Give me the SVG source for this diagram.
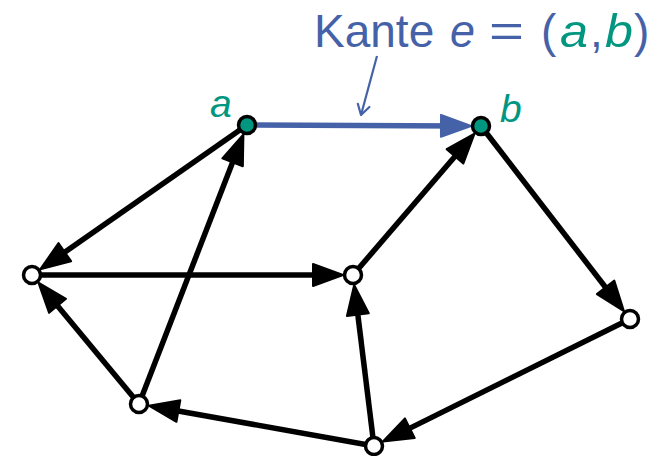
<svg xmlns="http://www.w3.org/2000/svg" width="657" height="456" viewBox="0 0 657 456">
<style>
.e{stroke:#000;stroke-width:5.5;fill:none}
.n{fill:#fff;stroke:#000;stroke-width:3.5}
.g{fill:#00967f;stroke:#000;stroke-width:3.5}
.t{font-family:"Liberation Sans",Arial,sans-serif;font-size:46px;fill:#4562a8}
.m{font-style:italic}
.gr{fill:#00967f}
.lb{font-family:"Liberation Sans",Arial,sans-serif;font-size:39px;font-style:italic;fill:#00967f}
</style>
<defs>
<marker id="ah" markerUnits="userSpaceOnUse" viewBox="-2 -13 34 26" markerWidth="34" markerHeight="26" refX="20" refY="0" orient="auto">
<path d="M0,-11 L30,0 L0,11 z" fill="#000" stroke="#000" stroke-width="2" stroke-linejoin="round"/>
</marker>
<marker id="ahb" markerUnits="userSpaceOnUse" viewBox="-2 -13 34 26" markerWidth="34" markerHeight="26" refX="20" refY="0" orient="auto">
<path d="M0,-11 L30,0 L0,11 z" fill="#4562a8" stroke="#4562a8" stroke-width="2" stroke-linejoin="round"/>
</marker>
<marker id="ahs" markerUnits="userSpaceOnUse" viewBox="-12 -8 14 16" markerWidth="14" markerHeight="16" refX="0" refY="0" orient="auto">
<path d="M-10,-6 L0,0 L-10,6" fill="none" stroke="#4562a8" stroke-width="2.2" stroke-linejoin="round" stroke-linecap="round"/>
</marker>
</defs>
<g id="label">
<text class="t" x="314" y="47">Kante</text>
<text class="t m" x="450" y="47" textLength="25" lengthAdjust="spacingAndGlyphs">e</text>
<text class="t" x="489" y="47" textLength="35" lengthAdjust="spacingAndGlyphs">=</text>
<text class="t" x="541" y="47">(</text>
<text class="t m gr" x="560" y="47" textLength="28" lengthAdjust="spacingAndGlyphs">a</text>
<text class="t" x="590" y="47">,</text>
<text class="t m gr" x="605" y="47" textLength="28" lengthAdjust="spacingAndGlyphs">b</text>
<text class="t" x="634" y="47">)</text>
<line x1="377" y1="56" x2="361" y2="115" stroke="#4562a8" stroke-width="2.2" marker-end="url(#ahs)"/>
</g>
<g id="connectors">
<line x1="247" y1="125" x2="461" y2="125.9" stroke="#4562a8" stroke-width="5.5" marker-end="url(#ahb)"/>
<line class="e" x1="247" y1="125" x2="48.4" y2="263.6" marker-end="url(#ah)"/>
<line class="e" x1="32" y1="275" x2="333" y2="275" marker-end="url(#ah)"/>
<line class="e" x1="353" y1="275" x2="468" y2="141.2" marker-end="url(#ah)"/>
<line class="e" x1="481" y1="126" x2="617.8" y2="303.2" marker-end="url(#ah)"/>
<line class="e" x1="630" y1="319" x2="391.9" y2="437.1" marker-end="url(#ah)"/>
<line class="e" x1="374" y1="446" x2="355.4" y2="294.8" marker-end="url(#ah)"/>
<line class="e" x1="374" y1="446" x2="158.7" y2="407.5" marker-end="url(#ah)"/>
<line class="e" x1="139" y1="404" x2="239.8" y2="143.65" marker-end="url(#ah)"/>
<line class="e" x1="139" y1="404" x2="44.8" y2="290.4" marker-end="url(#ah)"/>
</g>
<g id="node-a"><circle class="g" cx="247" cy="125" r="8.5"/><text class="lb" x="210" y="117">a</text></g>
<g id="node-b"><circle class="g" cx="481" cy="126" r="8.5"/><text class="lb" x="500" y="122">b</text></g>
<g id="node-left"><circle class="n" cx="32" cy="275" r="8.5"/></g>
<g id="node-middle"><circle class="n" cx="353" cy="275" r="8.5"/></g>
<g id="node-right"><circle class="n" cx="630" cy="319" r="8.5"/></g>
<g id="node-bottomleft"><circle class="n" cx="139" cy="404" r="8.5"/></g>
<g id="node-bottom"><circle class="n" cx="374" cy="446" r="8.5"/></g>
</svg>
